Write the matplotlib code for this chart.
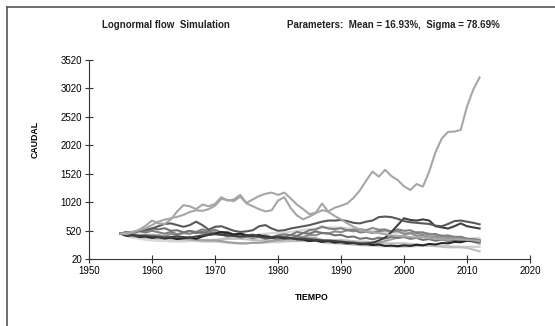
import numpy as np
import matplotlib
matplotlib.use('Agg')
import matplotlib.pyplot as plt
from matplotlib.lines import Line2D

plt.rcParams['font.family'] = ['Liberation Sans', 'DejaVu Sans']

# ---------------- data ----------------
years = list(range(1955, 2013))

sim_a = [470, 485, 505, 530, 565,
         620, 680, 715, 740, 765, 800, 850, 880, 870, 900,
         960, 1080, 1060, 1040, 1120, 1000, 950, 900, 860, 880,
         1050, 1110, 920, 790, 720, 770, 830, 880, 860, 925,
         960, 1000, 1100, 1230, 1400, 1560, 1470, 1590, 1480, 1410,
         1300, 1235, 1340, 1295, 1560, 1900, 2140, 2255, 2260, 2290,
         2700, 3000, 3210]
sim_b = [470, 460, 490, 540, 610,
         700, 650, 640, 720, 860, 970, 950, 900, 980, 950,
         990, 1110, 1050, 1070, 1150, 1010, 1070, 1130, 1170, 1190,
         1150, 1190, 1090, 980, 900, 810, 840, 1000, 850, 780,
         720, 650, 590, 540, 510, 490, 480, 460, 440, 430,
         420, 410, 400, 410, 390, 380, 370, 360, 380, 370,
         360, 350, 340]
sim_c = [470, 480, 500, 520, 540,
         560, 600, 640, 650, 620, 590, 620, 680, 620, 540,
         590, 600, 560, 520, 500, 510, 530, 600, 620, 560,
         520, 530, 560, 580, 600, 620, 650, 680, 700, 700,
         710, 690, 660, 650, 680, 700, 760, 770, 760, 730,
         690, 670, 660, 650, 640, 610, 600, 640, 690, 700,
         680, 660, 634]
sim_d = [470, 450, 440, 430, 430,
         420, 410, 400, 410, 420, 410, 400, 420, 440, 450,
         460, 450, 440, 430, 420, 430, 440, 420, 400, 400,
         410, 400, 390, 380, 380, 370, 360, 350, 350, 340,
         330, 320, 310, 300, 300, 310, 350, 400, 500, 620,
         740, 710, 700, 720, 700, 600, 580, 560, 600, 650,
         600, 580, 560]
sim_e = [470, 500, 480, 510, 490,
         520, 495, 470, 500, 460, 490, 520, 500, 545, 510,
         540, 490, 500, 455, 475, 440, 455, 420, 440, 410,
         440, 460, 445, 500, 480, 530, 545, 595, 560, 550,
         565, 530, 540, 490, 505, 480, 515, 530, 510, 545,
         520, 530, 480, 490, 450, 465, 420, 440, 400, 415,
         380, 375, 360]
sim_f = [470, 440, 420, 410, 400,
         400, 390, 390, 380, 380, 370, 370, 360, 360, 360,
         360, 370, 380, 380, 380, 370, 360, 350, 350, 350,
         350, 345, 340, 340, 340, 340, 345, 350, 355, 360,
         360, 350, 340, 330, 330, 320, 310, 300, 300, 300,
         300, 290, 280, 270, 260, 250, 240, 230, 230, 230,
         220, 190, 160]
sim_g = [470, 430, 400, 380, 360,
         350, 340, 340, 330, 330, 330, 340, 350, 350, 360,
         360, 380, 400, 410, 420, 430, 440, 460, 470, 480,
         480, 490, 500, 520, 540, 550, 560, 570, 580, 580,
         580, 570, 550, 530, 520, 520, 510, 500, 490, 480,
         480, 470, 460, 440, 420, 420, 410, 400, 390, 380,
         380, 390, 400]
sim_h = [470, 430, 445, 410, 420,
         395, 410, 385, 400, 375, 390, 405, 380, 420, 450,
         470, 500, 480, 455, 470, 440, 430, 445, 415, 400,
         410, 385, 395, 370, 365, 340, 350, 325, 340, 315,
         325, 300, 310, 285, 290, 270, 280, 255, 260, 250,
         265, 255, 275, 265, 290, 280, 305, 300, 325, 320,
         345, 335, 330]
sim_i = [470, 500, 485, 530, 520,
         560, 545, 565, 520, 530, 495, 515, 480, 500, 470,
         495, 460, 475, 440, 460, 425, 445, 410, 430, 405,
         430, 415, 445, 430, 480, 470, 510, 480, 475, 440,
         450, 410, 420, 380, 395, 370, 400, 385, 415, 395,
         410, 380, 395, 360, 375, 345, 365, 340, 360, 345,
         355, 340, 340]
sim_j = [470, 460, 455, 450, 450,
         450, 440, 420, 400, 390, 380, 370, 360, 350, 350,
         350, 340, 320, 310, 300, 300, 310, 310, 320, 340,
         360, 370, 380, 390, 400, 400, 390, 360, 330, 310,
         300, 290, 285, 280, 280, 290, 310, 340, 370, 400,
         440, 480, 500, 490, 470, 450, 440, 430, 420, 410,
         380, 330, 290]
sim_k = [470, 445, 455, 420, 435,
         410, 440, 425, 465, 445, 480, 465, 500, 480, 510,
         470, 455, 420, 440, 400, 415, 390, 410, 375, 395,
         370, 400, 385, 420, 410, 450, 440, 485, 470, 510,
         495, 530, 510, 550, 530, 570, 540, 545, 500, 515,
         470, 480, 430, 450, 400, 420, 380, 395, 365, 380,
         360, 370, 355]
sim_l = [470, 430, 400, 390, 380,
         380, 370, 370, 360, 360, 350, 340, 340, 330, 330,
         330, 320, 310, 300, 300, 300, 310, 310, 320, 320,
         320, 330, 340, 350, 350, 350, 340, 320, 300, 300,
         300, 290, 280, 270, 260, 260, 250, 250, 245, 240,
         240, 245, 250, 255, 260, 260, 255, 250, 245, 240,
         240, 240, 240]

series = [sim_l, sim_g, sim_f, sim_j, sim_k, sim_e, sim_i,
          sim_h, sim_d, sim_c, sim_b, sim_a]
colors = ['#cccccc', '#d9d9d9', '#bfbfbf', '#a0a0a0', '#8c8c8c', '#808080',
          '#737373', '#262626', '#404040', '#595959', '#a6a6a6', '#a6a6a6']

y_ticks = [20, 520, 1020, 1520, 2020, 2520, 3020, 3520]
x_ticks = [1950, 1960, 1970, 1980, 1990, 2000, 2010, 2020]

# ---------------- plot ----------------
fig = plt.figure(figsize=(5.55, 3.26), dpi=100)
ax = fig.add_axes([89 / 555, 1 - 259.3 / 326, 441 / 555, 199.5 / 326])

for vals, col in zip(series, colors):
    ax.plot(years, vals, color=col, lw=1.5, solid_joinstyle='round')

ax.set_xlim(1950, 2020)
ax.set_ylim(20, 3520)
ax.set_xticks(x_ticks)
ax.set_yticks(y_ticks)
ax.tick_params(direction='inout', length=6, width=0.8, labelsize=7, pad=2,
               colors='#333333', labelcolor='black')
for side in ['top', 'right']:
    ax.spines[side].set_visible(False)
for side in ['left', 'bottom']:
    ax.spines[side].set_color('#333333')
    ax.spines[side].set_linewidth(0.8)

fig.text(166 / 555, 1 - 25 / 326, 'Lognormal flow  Simulation', ha='center',
         va='center', fontsize=7, fontweight='bold', color='#222222')
fig.text(287 / 555, 1 - 25 / 326, 'Parameters:  Mean = 16.93%,  Sigma = 78.69%',
         ha='left', va='center', fontsize=7, fontweight='bold', color='#222222')
fig.text(35 / 555, 1 - 139 / 326, 'CAUDAL', rotation=90, ha='center',
         va='center', fontsize=6.3, fontweight='bold')
fig.text(312 / 555, 1 - 297 / 326, 'TIEMPO', ha='center', va='center',
         fontsize=6.3, fontweight='bold')

# frame of the outer chart area (only top and left visible in the crop)
fig.add_artist(Line2D([7 / 555, 1], [1 - 7 / 326, 1 - 7 / 326],
                      color='#555555', lw=1.2))
fig.add_artist(Line2D([7 / 555, 7 / 555], [0, 1 - 7 / 326],
                      color='#555555', lw=1.2))

fig.savefig('out.png', dpi=100)
